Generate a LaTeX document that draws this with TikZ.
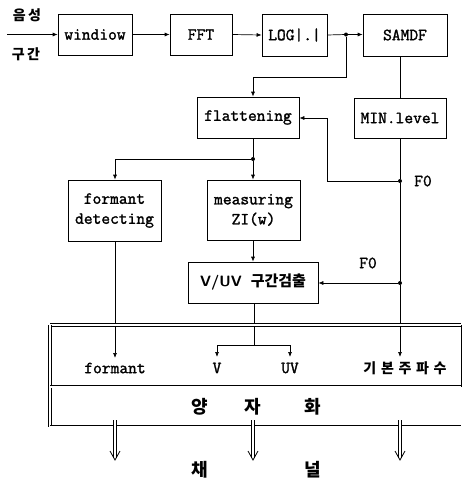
\documentclass[tikz,border=0pt]{standalone}
\usepackage{fontspec}
\setmonofont{Latin Modern Mono}[AutoFakeBold=1.6]
\newfontfamily\kr{Noto Sans CJK KR}
\usetikzlibrary{arrows.meta}
\begin{document}
\begin{tikzpicture}[x=1pt,y=-1pt,
  box/.style={draw,line width=0.7pt,minimum width=#1,inner sep=0pt,font=\ttfamily\bfseries\fontsize{17}{20}\selectfont,align=center},
  lbl/.style={inner sep=0pt,font=\ttfamily\bfseries\fontsize{17}{20}\selectfont},
  krl/.style={inner sep=0pt,font=\kr\bfseries\fontsize{14}{16}\selectfont},
  krbig/.style={inner sep=0pt,font=\kr\bfseries\fontsize{18}{20}\selectfont},
  conn/.style={line width=0.7pt},
  arr/.style={line width=0.7pt,-{Latex[length=5pt,width=4pt]}},
  dotc/.style={circle,fill,inner sep=0pt,minimum size=4pt},
  band/.style={line width=0.6pt,double,double distance=2pt},
  hol/.style={line width=0.6pt,double,double distance=2pt}
]
\useasboundingbox (0,0) rectangle (462,483);
% boxes
\node[box=74pt,minimum height=41pt] (win) at (95,34.5) {windiow};
\node[box=62pt,minimum height=41pt] (fft) at (201,34.5) {FFT};
\node[box=65pt,minimum height=42pt] (log) at (294.5,35) {LOG|.|};
\node[box=84pt,minimum height=42pt] (samdf) at (405,35) {SAMDF};
\node[box=102pt,minimum height=41pt] (flat) at (248,117.5) {flattening};
\node[box=92pt,minimum height=40pt] (minl) at (400,118) {MIN.level};
\node[box=93pt,minimum height=61pt] (fdet) at (114.5,210.5) {formant\\detecting};
\node[box=93pt,minimum height=60pt] (meas) at (253.5,210) {measuring\\ZI(w)};
\node[box=130pt,minimum height=41pt] (vuv) at (253,282.5) {\fontsize{15}{17}\selectfont\sffamily\bfseries V/UV\hspace{9pt}{\kr\bfseries 구간검출}};
% input labels
\node[krl] (t1) at (27,15) {음\,성};
\node[krl] (t2) at (26,54) {구\,간};
\coordinate (in) at (7,34.5);
% dots
\node[dotc] (d1) at (346,34.5) {};
\node[dotc] (d2) at (253,159) {};
\node[dotc] (f1) at (400,181) {};
\node[dotc] (f2) at (400,283) {};
\coordinate (c1) at (346,77);
\coordinate (c2) at (253,77);
\coordinate (c3) at (115,159);
\coordinate (c4) at (327,181);
\coordinate (c5) at (327,118);
\coordinate (c6) at (254,345);
\coordinate (vL) at (217,345);
\coordinate (vR) at (290,345);
\coordinate (vLe) at (217,357);
\coordinate (vRe) at (290,357);
\coordinate (fe) at (115,358);
\coordinate (ke) at (400,357);
% connectors
\draw[arr] (in) -- (win.west);
\draw[arr] (win.east) -- (fft.west);
\draw[arr] (fft.east) -- (log.west);
\draw[conn] (log.east) -- (d1);
\draw[arr] (d1) -- (samdf.west |- d1);
\draw[arr] (d1) -- (c1) -- (c2) -- (c2 |- flat.north);
\draw[conn] (samdf.south -| 400,0) -- (minl.north);
\draw[conn] (minl.south) -- (f1) -- (f2);
\draw[arr] (f2) -- (ke);
\draw[arr] (f1) -- (c4) -- (c5) -- (flat.east |- c5);
\draw[arr] (f2) -- (vuv.east |- f2);
\draw[conn] (253,138) -- (d2);
\draw[arr] (d2) -- (meas.north -| d2);
\draw[arr] (d2) -- (c3) -- (fdet.north -| c3);
\draw[arr] (fdet.south -| c3) -- (fe);
\draw[arr] (meas.south -| d2) -- (vuv.north -| d2);
\draw[conn] (vuv.south -| c6) -- (c6);
\draw[conn] (vL) -- (vR);
\draw[arr] (vL) -- (vLe);
\draw[arr] (vR) -- (vRe);
% F0 labels
\node[lbl] (F1) at (423,181) {F0};
\node[lbl] (F2) at (368,263) {F0};
% band
\draw[band] (50,325) -- (461,325);
\draw[band] (50,325) -- (50,426.5);
\draw[band] (50,386.5) -- (461,386.5);
\draw[band] (50,426.5) -- (461,426.5);
\draw[conn] (461,325) -- (461,386.5);
\node[lbl] (tf) at (115,368) {formant};
\node[lbl] (tv) at (217,368) {V};
\node[lbl] (tuv) at (290,368) {UV};
\node[krl] (tk) at (405,368) {기\,\,본\,\,주\,\,파\,\,수};
\node[krbig] (q1) at (200,407) {양};
\node[krbig] (q2) at (253,407) {자};
\node[krbig] (q3) at (313,407) {화};
% output arrows
\foreach \x/\n in {115/a,253/b,400/c}{
  \coordinate (o\n1) at (\x,420);
  \coordinate (o\n2) at (\x,458);
  \draw[hol] (o\n1) -- (o\n2);
  \draw[line width=0.8pt] (\x-5,451) -- (\x,460) -- (\x+5,451);
}
\node[krbig] (ch1) at (200,470) {채};
\node[krbig] (ch2) at (313,470) {널};
\end{tikzpicture}
\end{document}
